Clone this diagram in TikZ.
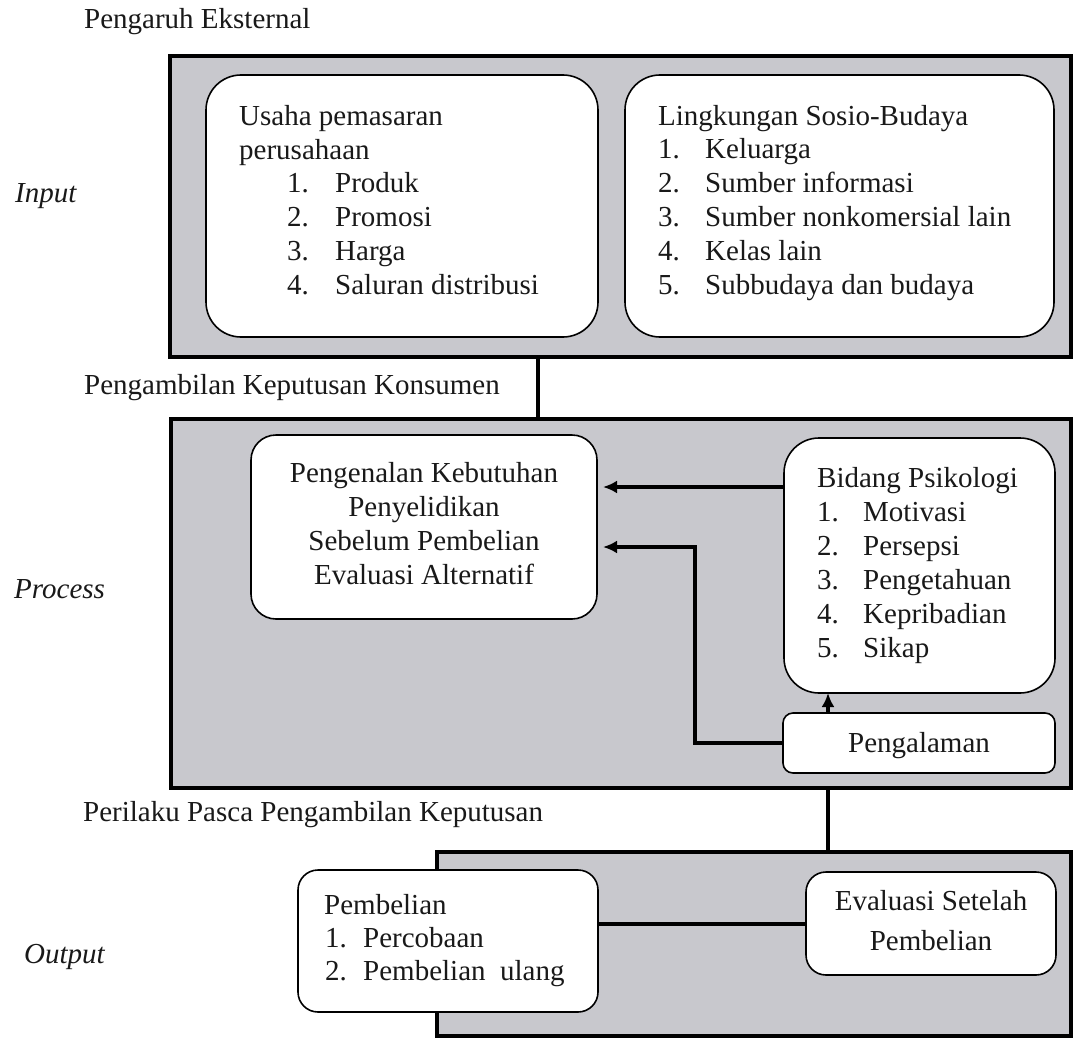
\documentclass[tikz,border=0pt]{standalone}
\usepackage{fontspec}
\setmainfont{Liberation Serif}
\usetikzlibrary{arrows.meta}
\definecolor{panelgray}{RGB}{200,200,205}
\definecolor{inkc}{RGB}{25,25,25}
\newcommand\dfont{\fontsize{29}{34}\selectfont}
\begin{document}
\begin{tikzpicture}[x=1pt,y=-1pt,
  panel/.style={draw=black, line width=4.5pt, fill=panelgray, inner sep=0pt, outer sep=0pt},
  card/.style={draw=black, line width=1.6pt, fill=white, rounded corners=#1, inner sep=0pt, outer sep=0pt},
  txt/.style={anchor=base west, inner sep=0pt, font=\dfont, text=inkc},
  ctxt/.style={anchor=base, inner sep=0pt, font=\dfont, text=inkc},
  side/.style={anchor=base west, inner sep=0pt, font=\dfont\itshape, text=inkc},
  conn/.style={line width=4pt, draw=black},
  arr/.style={line width=4pt, draw=black, -{Latex[length=14pt,width=13pt]}},
]
\useasboundingbox (0,0) rectangle (1075,1038);
\fill[white] (0,0) rectangle (1075,1038);

% helper coordinates
\coordinate (cx1) at (538,0);
\coordinate (cx2) at (828,0);
\coordinate (ax) at (695,0);
\coordinate (ay1) at (0,487);
\coordinate (ay2) at (0,547);
\coordinate (ly) at (0,924);

% panels
\node[panel, minimum width=901pt, minimum height=301pt] (inbox) at (620.5,206.5) {};
\node[panel, minimum width=900pt, minimum height=369pt] (procbox) at (621,603.5) {};
\node[panel, minimum width=634pt, minimum height=184pt] (outbox) at (754,944) {};

% panel connectors
\draw[conn] (inbox.south -| cx1) -- (procbox.north -| cx1);
\draw[conn] (procbox.south -| cx2) -- (outbox.north -| cx2);

% cards
\node[card=35pt, minimum width=392pt, minimum height=262pt] (usaha) at (402,206) {};
\node[card=35pt, minimum width=429pt, minimum height=262pt] (ling) at (839.5,206) {};
\node[card=25pt, minimum width=346pt, minimum height=184pt] (pgn) at (424,527) {};
\node[card=35pt, minimum width=271pt, minimum height=255pt] (bid) at (919.5,565.5) {};
\node[card=10pt, minimum width=272pt, minimum height=60pt] (pal) at (919,743) {};
\node[card=20pt, minimum width=300pt, minimum height=142pt] (pem) at (448,941) {};
\node[card=20pt, minimum width=250pt, minimum height=103pt] (eva) at (931,923.5) {};

% connectors inside
\draw[arr, shorten >=6pt] (bid.west |- ay1) -- (pgn.east |- ay1);
\draw[arr, shorten >=6pt] (pal.west) -- (pal.west -| ax) -- (ax |- ay2) -- (pgn.east |- ay2);
\draw[arr] (pal.north -| cx2) -- (bid.south -| cx2);
\draw[conn] (pem.east |- ly) -- (eva.west |- ly);

% headings and side labels
\node[txt] (hext) at (84,29) {Pengaruh Eksternal};
\node[txt] (hkep) at (84,394) {Pengambilan Keputusan Konsumen};
\node[txt] (hpas) at (83,821) {Perilaku Pasca Pengambilan Keputusan};
\node[side] (sin) at (15,202) {Input};
\node[side] (spr) at (14,598) {Process};
\node[side] (sou) at (24,963) {Output};

% Usaha
\node[txt] (ut1) at (239,125) {Usaha pemasaran};
\node[txt] (ut2) at (239,159) {perusahaan};
\foreach \t [count=\i] in {Produk,Promosi,Harga,Saluran distribusi}{
  \node[txt] (un\i) at (287,158+34*\i) {\i.};
  \node[txt] (ui\i) at (335,158+34*\i) {\t};
}

% Lingkungan
\node[txt] (lt) at (658,125) {Lingkungan Sosio-Budaya};
\foreach \t [count=\i] in {Keluarga,Sumber informasi,Sumber nonkomersial lain,Kelas lain,Subbudaya dan budaya}{
  \node[txt] (ln\i) at (658,124+34*\i) {\i.};
  \node[txt] (li\i) at (705,124+34*\i) {\t};
}

% Pengenalan
\node[ctxt] (p1) at (424,482) {Pengenalan Kebutuhan};
\node[ctxt] (p2) at (424,516) {Penyelidikan};
\node[ctxt] (p3) at (424,550) {Sebelum Pembelian};
\node[ctxt] (p4) at (424,584) {Evaluasi Alternatif};

% Bidang
\node[txt] (bt) at (817,487) {Bidang Psikologi};
\foreach \t [count=\i] in {Motivasi,Persepsi,Pengetahuan,Kepribadian,Sikap}{
  \node[txt] (bn\i) at (817,487+34*\i) {\i.};
  \node[txt] (bi\i) at (863,487+34*\i) {\t};
}

% Pengalaman
\node[ctxt] (pl) at (919,752) {Pengalaman};

% Pembelian
\node[txt] (mt) at (324,914) {Pembelian};
\node[txt] (mn1) at (325,947) {1.};
\node[txt] (mi1) at (363,947) {Percobaan};
\node[txt] (mn2) at (325,980) {2.};
\node[txt] (mi2) at (363,980) {Pembelian\ \ ulang};

% Evaluasi
\node[ctxt] (e1) at (931,910) {Evaluasi Setelah};
\node[ctxt] (e2) at (931,950) {Pembelian};
\end{tikzpicture}
\end{document}
